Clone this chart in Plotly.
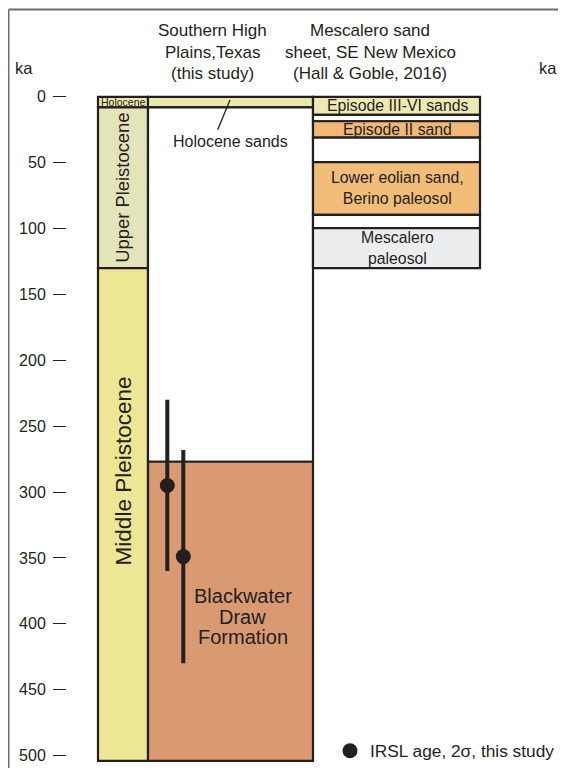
import plotly.graph_objects as go

# ---------------- data (ages in ka) ----------------
epoch_names = ["Holocene", "Upper Pleistocene", "Middle Pleistocene"]
epoch_top = [0, 8, 130]
epoch_base = [8, 130, 504]

texas_units = ["Holocene sands", "", "Blackwater Draw Formation"]
texas_top = [0, 8, 277]
texas_base = [8, 277, 504]

mesc_units = ["Episode III-VI sands", "", "Episode II sand", "",
              "Lower eolian sand,<br>Berino paleosol", "", "Mescalero<br>paleosol"]
mesc_top = [0, 13.6, 18.5, 31, 49.5, 89.5, 99.6]
mesc_base = [13.6, 18.5, 31, 49.5, 89.5, 99.6, 130]

irsl_age = [295, 349]
irsl_err = [65, 81]

left_ticks = [0, 50, 100, 150, 200, 250, 300, 350, 400, 450, 500]
right_ticks = [0, 50, 100, 150]

# ---------------- styles ----------------
DARK = "#231f20"
FONT = "Liberation Sans, Arial, sans-serif"
epoch_colors = ["#ebe8a9", "#e4e4bb", "#ede795"]
texas_colors = ["#ebe8ab", "#ffffff", "#d99a72"]
mesc_colors = ["#ede9b1", "#ffffff", "#f0b878", "#ffffff", "#f2bc79", "#ffffff", "#ecedef"]

PAGE_W, PAGE_H = 566, 769
OFF = 8                      # default body margin of the html page
W, H = PAGE_W - OFF, PAGE_H - OFF
Y0PX, PXPERKA = 97.0, 1.319  # page pixel of 0 ka, pixels per ka


def ka(py):
    return (py - Y0PX) / PXPERKA


def px(x):      # page x -> paper fraction
    return (x - OFF) / W


def py(y):      # page y -> paper fraction
    return 1 - (y - OFF) / H


yr = [ka(PAGE_H), ka(OFF)]

col_epoch = (98, 148)
col_texas = (148, 313)
col_mesc = (313, 480)

fig = go.Figure()

shapes = []


def add_rects(col, tops, bases, colors):
    for t, b, c in zip(tops, bases, colors):
        shapes.append(dict(type="rect", xref="x", yref="y", x0=col[0], x1=col[1],
                           y0=t, y1=b, fillcolor=c, line=dict(color=DARK, width=2.2),
                           layer="below"))


add_rects(col_epoch, epoch_top, epoch_base, epoch_colors)
add_rects(col_texas, texas_top, texas_base, texas_colors)
add_rects(col_mesc, mesc_top, mesc_base, mesc_colors)

# leader line for Holocene sands
shapes.append(dict(type="line", xref="x", yref="y", x0=230, x1=217.7,
                   y0=ka(100), y1=ka(130),
                   line=dict(color=DARK, width=1.3)))

# outer frame (decorative)
shapes.append(dict(type="line", xref="x", yref="paper", x0=8.5, x1=8.5,
                   y0=0, y1=py(9.5), line=dict(color="#6d6e71", width=2)))
shapes.append(dict(type="line", xref="x", yref="paper", x0=8.5, x1=PAGE_W + 5,
                   y0=py(9.5), y1=py(9.5), line=dict(color="#6d6e71", width=2)))

# IRSL ages
fig.add_trace(go.Scatter(
    x=[167.3, 183.3], y=irsl_age, mode="markers",
    marker=dict(size=15, color=DARK),
    error_y=dict(type="data", array=irsl_err, visible=True, color=DARK,
                 thickness=4, width=0),
    name="IRSL age, 2σ, this study", showlegend=True,
))

ann = []


def txt(x, y, s, size, angle=0):
    ann.append(dict(x=x, y=y, xref="x", yref="y", text=s, showarrow=False,
                    font=dict(family=FONT, size=size, color=DARK),
                    textangle=angle, xanchor="center", yanchor="middle"))


# headers
for line, ypx in zip(["Southern High", "Plains,Texas", "(this study)"], [30.5, 52.2, 73.5]):
    txt(212, ka(ypx), line, 17)
for line, ypx in zip(["Mescalero sand", "sheet, SE New Mexico", "(Hall & Goble, 2016)"], [30.5, 52.2, 73.5]):
    txt(370, ka(ypx), line, 17)
txt(24, ka(68), "ka", 16.5)
txt(548, ka(68), "ka", 16.5)

# epoch labels
txt(123, (epoch_top[0] + epoch_base[0]) / 2, epoch_names[0], 10.5)
txt(123, ka(188), epoch_names[1], 18.4, angle=-90)
txt(123, ka(472), epoch_names[2], 22.5, angle=-90)

# Texas column labels
txt(230, ka(141.7), texas_units[0], 16)
for line, ypx in zip(["Blackwater", "Draw", "Formation"], [596.7, 617.3, 638.3]):
    txt(242.5, ka(ypx), line, 20)

# Mescalero labels
for name, t, b in zip(mesc_units, mesc_top, mesc_base):
    if name:
        txt(397, (t + b) / 2, name, 15.8)

tick_common = dict(showgrid=False, zeroline=False, showline=False,
                   ticks="outside", ticklen=13, tickwidth=1.3, tickcolor=DARK,
                   ticklabelstandoff=4,
                   tickfont=dict(family=FONT, size=16, color=DARK))

fig.update_layout(
    width=W, height=H, margin=dict(l=0, r=0, t=0, b=0),
    paper_bgcolor="white", plot_bgcolor="white",
    shapes=shapes, annotations=ann,
    xaxis=dict(range=[OFF, PAGE_W], visible=False, fixedrange=True, domain=[0, 1]),
    yaxis=dict(range=yr, anchor="free", position=px(66), side="left",
               tickvals=left_ticks, ticktext=[str(v) for v in left_ticks],
               **tick_common),
    yaxis2=dict(range=yr, overlaying="y", anchor="free", position=px(512), side="right",
                tickvals=right_ticks, ticktext=[str(v) for v in right_ticks],
                **tick_common),
    showlegend=True,
    legend=dict(x=px(330), y=py(752), xanchor="left", yanchor="middle",
                bgcolor="rgba(0,0,0,0)", borderwidth=0,
                font=dict(family=FONT, size=17.3, color=DARK)),
)

fig.write_html("out.html")
